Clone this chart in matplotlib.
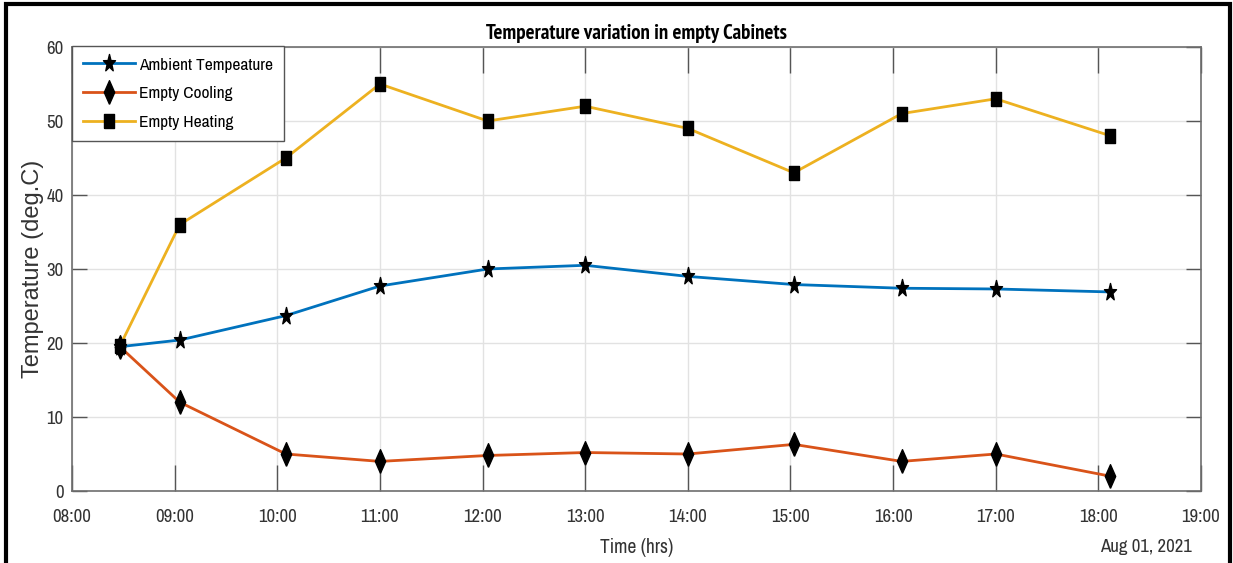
import datetime as dt

import matplotlib
matplotlib.use("Agg")
import matplotlib.pyplot as plt
import matplotlib.dates as mdates
from matplotlib import font_manager as fm
from matplotlib.path import Path
from matplotlib.patches import Rectangle

# sample times (hh:mm on 01 Aug 2021)
times = ["08:28", "09:03", "10:05", "11:00", "12:03", "13:00",
         "14:00", "15:02", "16:05", "17:00", "18:07"]
ambient = [19.5, 20.4, 23.7, 27.7, 30.0, 30.5, 29.0, 27.9, 27.4, 27.3, 26.9]
cooling = [19.5, 12.0, 5.0, 4.0, 4.8, 5.2, 5.0, 6.3, 4.0, 5.0, 2.0]
heating = [19.6, 36.0, 45.0, 55.0, 50.0, 52.0, 49.0, 43.0, 51.0, 53.0, 48.0]
labels = ["Ambient Tempeature", "Empty Cooling", "Empty Heating"]

day = dt.date(2021, 8, 1)
t = [dt.datetime.combine(day, dt.datetime.strptime(s, "%H:%M").time()) for s in times]


def weight_of(f):
    w = f.weight
    return w if isinstance(w, int) else fm.weight_dict.get(w, 400)


def pick(cands, bold=False):
    for c in cands:
        ent = [f for f in fm.fontManager.ttflist if f.name == c]
        if ent and (not bold or any(weight_of(f) >= 700 for f in ent)):
            return c
    return "DejaVu Sans"


# Arial-Narrow-like faces, best first
cands = ["Liberation Sans Narrow", "Arial Narrow", "Archivo Narrow", "PT Sans Narrow",
         "Roboto Condensed", "Fira Sans Condensed", "IBM Plex Sans Condensed",
         "Open Sans Condensed", "Barlow Semi Condensed", "Saira SemiCondensed",
         "Liberation Sans"]
narrow = pick(cands)
narrow_bold = pick(cands, bold=True)
plt.rcParams["font.family"] = [narrow, "DejaVu Sans"]

fig = plt.figure(figsize=(12.33, 5.63), dpi=100)
ax = fig.add_axes([72 / 1233, 1 - 491 / 563, (1201 - 72) / 1233, (491 - 47) / 563])

# markers in the source look stretched vertically
star = Path.unit_regular_star(5, 0.4)
star = Path(star.vertices * [0.7, 1.0], star.codes)
diamond = [(0, -0.5), (0.22, 0), (0, 0.5), (-0.22, 0), (0, -0.5)]
tall_sq = [(-0.4, -0.5), (0.4, -0.5), (0.4, 0.5), (-0.4, 0.5), (-0.4, -0.5)]
ax.plot(t, ambient, color="#0072BD", lw=2, marker=star, ms=13, mfc="black", mec="black",
        label=labels[0])
ax.plot(t, cooling, color="#D95319", lw=2, marker=diamond, ms=17, mfc="black", mec="black",
        label=labels[1])
ax.plot(t, heating, color="#EDB120", lw=2, marker=tall_sq, ms=9.5, mfc="black", mec="black",
        label=labels[2])

ax.set_xlim(dt.datetime(2021, 8, 1, 8, 0), dt.datetime(2021, 8, 1, 19, 0))
ax.set_ylim(0, 60)
ax.xaxis.set_major_locator(mdates.HourLocator())
ax.xaxis.set_major_formatter(mdates.DateFormatter("%H:%M"))
ax.set_yticks(range(0, 61, 10))

ax.grid(True, color="#e2e2e2", lw=1)
ax.set_axisbelow(True)
for s in ax.spines.values():
    s.set_color("#6e6e6e")
    s.set_linewidth(1.2)
ax.tick_params(axis="x", direction="in", length=19, width=1, color="#555555",
               top=True, labelsize=13.5, labelcolor="#333333", pad=13)
ax.tick_params(axis="y", direction="in", length=11, width=1, color="#555555",
               right=True, labelsize=13.5, labelcolor="#333333", pad=6)

ax.set_title("Temperature variation in empty Cabinets", fontsize=15, fontweight="bold",
             family=[narrow_bold, "DejaVu Sans"], pad=6)
ax.set_xlabel("Time (hrs)", fontsize=14, color="#333333", labelpad=9)
ax.set_ylabel("Temperature (deg.C)", fontsize=17, color="#333333",
              family=["Liberation Sans", "DejaVu Sans"])
ax.yaxis.set_label_coords(-0.025, 0.5)
fig.text(1146 / 1233, 1 - 547 / 563, "Aug 01, 2021", ha="center", va="center",
         fontsize=13.5, color="#333333")

leg = ax.legend(loc="upper left", bbox_to_anchor=(0, 1.002), borderaxespad=0,
                fontsize=12.5, frameon=True, fancybox=False, edgecolor="#555555",
                framealpha=1, handlelength=3.0, borderpad=0.65, labelspacing=0.78,
                handletextpad=0.2)
leg.get_frame().set_linewidth(1)

# black frame around the figure
fig.patches.append(Rectangle((6 / 1233, -0.05), (1230 - 6) / 1233, 1.05 - 4 / 563,
                             transform=fig.transFigure, fill=False, ec="black", lw=3))

fig.savefig("out.png", dpi=100)
